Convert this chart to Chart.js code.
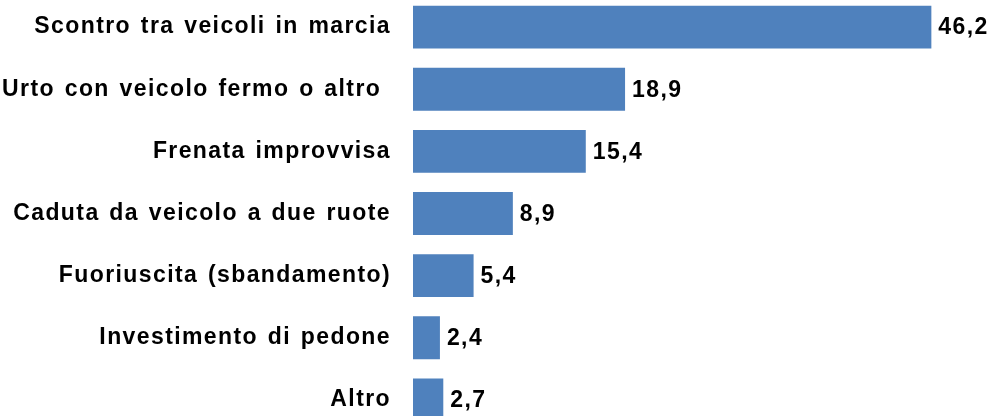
<!DOCTYPE html>
<html>
<head>
<meta charset="utf-8">
<script src="https://cdn.jsdelivr.net/npm/chart.js@4"></script>
<style>
  html, body { margin: 0; padding: 0; background: #fff; overflow: hidden; }
  body { width: 991px; height: 416px; position: relative; }
  #wrap { position: absolute; left: 0; top: -4px; width: 991px; height: 435px; }
</style>
</head>
<body>
<div id="wrap"><canvas id="chart"></canvas></div>
<script>
// Categories and percentages
const categories = [
  'Scontro tra veicoli in marcia',
  'Urto con veicolo fermo o altro ',
  'Frenata improvvisa',
  'Caduta da veicolo a due ruote',
  'Fuoriuscita (sbandamento)',
  'Investimento di pedone',
  'Altro'
];
const values = [46.2, 18.9, 15.4, 8.9, 5.4, 2.4, 2.7];

const FONT = '"Liberation Sans", Arial, sans-serif';

// slightly wider tracking for all canvas text (reset whenever the canvas is resized)
const tracking = {
  id: 'tracking',
  beforeDraw(chart) {
    chart.ctx.letterSpacing = '1.4px';
    chart.ctx.wordSpacing = '2px';
  }
};

// Draw the value to the right of each bar
const valueLabels = {
  id: 'valueLabels',
  afterDatasetsDraw(chart) {
    const ctx = chart.ctx;
    const meta = chart.getDatasetMeta(0);
    ctx.save();
    ctx.font = 'bold 23px ' + FONT;
    ctx.fillStyle = '#000';
    ctx.textBaseline = 'middle';
    ctx.textAlign = 'left';
    meta.data.forEach((bar, i) => {
      ctx.fillText(values[i].toFixed(1).replace('.', ','), bar.x + 7, bar.y + 1);
    });
    ctx.restore();
  }
};

new Chart(document.getElementById('chart'), {
  type: 'bar',
  data: {
    labels: categories,
    datasets: [{
      data: values,
      backgroundColor: '#4F81BD',
      borderWidth: 0,
      categoryPercentage: 1,
      barPercentage: 0.69
    }]
  },
  options: {
    indexAxis: 'y',
    responsive: true,
    maintainAspectRatio: false,
    animation: false,
    layout: { padding: { left: 0, right: 17, top: 0, bottom: 0 } },
    plugins: {
      legend: { display: false },
      tooltip: { enabled: false }
    },
    scales: {
      x: {
        display: false,
        min: 0,
        max: 50
      },
      y: {
        grid: { display: false, drawTicks: false },
        border: { display: false },
        afterFit(scale) {
          // fixed label column, and no extra room above/below the bars
          scale.width = 413;
          scale.paddingTop = 0;
          scale.paddingBottom = 0;
        },
        ticks: {
          color: '#000',
          padding: 22,
          font: { family: FONT, size: 23, weight: 'bold' }
        }
      }
    }
  },
  plugins: [tracking, valueLabels]
});
</script>
</body>
</html>
